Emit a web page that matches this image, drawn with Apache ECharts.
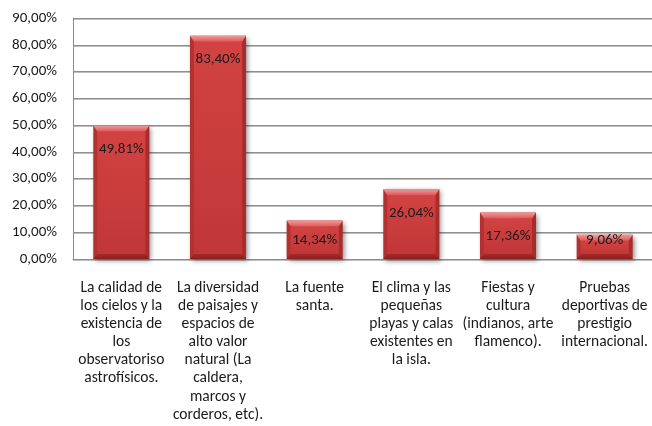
<!DOCTYPE html>
<html>
<head>
<meta charset="utf-8">
<script src="https://cdn.jsdelivr.net/npm/echarts@6/dist/echarts.min.js"></script>
<style>
  html, body { margin: 0; padding: 0; background: #ffffff; }
  #chart { width: 652px; height: 426px; }
</style>
</head>
<body>
<div id="chart"></div>
<script>
// Motivos de visita: categorías y porcentajes
const categories = [
  'La calidad de\nlos cielos y la\nexistencia de\nlos\nobservatoriso\nastrofísicos.',
  'La diversidad\nde paisajes y\nespacios de\nalto valor\nnatural (La\ncaldera,\nmarcos y\ncorderos, etc).',
  'La fuente\nsanta.',
  'El clima y las\npequeñas\nplayas y calas\nexistentes en\nla isla.',
  'Fiestas y\ncultura\n(indianos, arte\nflamenco).',
  'Pruebas\ndeportivas de\nprestigio\ninternacional.'
];
const percentages = [49.81, 83.40, 14.34, 26.04, 17.36, 9.06];
const yTicks = { min: 0, max: 90, step: 10 };

const FONT = 'Carlito, Lato, sans-serif';
const fmt = v => v.toFixed(2).replace('.', ',') + '%';

// Bar with bevelled edges, drawn from the axis coordinates
function renderBevelBar(params, api) {
  const idx = api.value(0);
  const val = api.value(1);
  const top = api.coord([idx, val]);
  const base = api.coord([idx, 0]);
  const band = api.size([1, 0])[0];
  const w = band * 0.58;
  const x0 = top[0] - w / 2, x1 = top[0] + w / 2;
  const y0 = top[1], y1 = base[1];
  const h = y1 - y0;
  const bv = Math.min(6, h / 4);   // top bevel depth
  const bb = Math.min(5, h / 4);   // bottom bevel depth
  const sv = 4;                    // side bevel width

  const children = [
    { // shadow + body
      type: 'rect',
      shape: { x: x0, y: y0, width: w, height: h },
      style: {
        fill: new echarts.graphic.LinearGradient(0, 0, 1, 0, [
          { offset: 0, color: '#b23030' },
          { offset: 0.5, color: '#c93c3c' },
          { offset: 1, color: '#a82a2a' }
        ]),
        shadowBlur: 5, shadowOffsetX: 2, shadowOffsetY: 2,
        shadowColor: 'rgba(0,0,0,0.45)'
      }
    },
    { // face
      type: 'rect',
      shape: { x: x0 + sv, y: y0 + bv, width: w - 2 * sv, height: h - bv - bb },
      style: {
        fill: new echarts.graphic.LinearGradient(0, 0, 0, 1, [
          { offset: 0, color: '#d24242' },
          { offset: 1, color: '#c03737' }
        ])
      }
    },
    { // top bevel (light)
      type: 'polygon',
      shape: { points: [[x0, y0], [x1, y0], [x1 - sv, y0 + bv], [x0 + sv, y0 + bv]] },
      style: {
        fill: new echarts.graphic.LinearGradient(0, 0, 0, 1, [
          { offset: 0, color: '#f09a9a' },
          { offset: 1, color: '#dc5858' }
        ])
      }
    },
    { // bottom bevel (dark)
      type: 'polygon',
      shape: { points: [[x0, y1], [x1, y1], [x1 - sv, y1 - bb], [x0 + sv, y1 - bb]] },
      style: {
        fill: new echarts.graphic.LinearGradient(0, 0, 0, 1, [
          { offset: 0, color: '#a82a2a' },
          { offset: 1, color: '#8a1e1e' }
        ])
      }
    }
  ];

  // Value label: inside the top of the bar, or near the base on short bars
  const SHORT_BAR = 16;
  const labelY = val < SHORT_BAR ? y1 - 19 : y0 + 24;
  children.push({
    type: 'text',
    style: {
      x: top[0], y: labelY,
      text: fmt(val),
      align: 'center', verticalAlign: 'middle',
      fill: '#1a1a1a',
      font: '15px ' + FONT
    }
  });

  return { type: 'group', children: children };
}

const chart = echarts.init(document.getElementById('chart'), null, { renderer: 'canvas' });

chart.setOption({
  animation: false,
  backgroundColor: '#ffffff',
  grid: {
    left: 73, top: 18, width: 580, bottom: 167,
    containLabel: false,
    outerBoundsMode: 'none'
  },
  xAxis: {
    type: 'category',
    data: categories,
    axisLine: { show: true, lineStyle: { color: '#8c8c8c', width: 1 } },
    axisTick: { show: false },
    axisLabel: {
      interval: 0,
      margin: 20,
      color: '#1a1a1a',
      fontFamily: FONT,
      fontSize: 15.5,
      lineHeight: 18.1,
      align: 'center'
    }
  },
  yAxis: {
    type: 'value',
    min: yTicks.min,
    max: yTicks.max,
    interval: yTicks.step,
    axisLine: { show: true, lineStyle: { color: '#8c8c8c', width: 1 } },
    axisTick: { show: false },
    splitLine: {
      show: true,
      lineStyle: { color: '#8e8e8e', width: 1, shadowColor: 'rgba(0,0,0,0.25)', shadowOffsetY: 1 }
    },
    axisLabel: {
      margin: 16,
      color: '#1a1a1a',
      fontFamily: FONT,
      fontSize: 15,
      formatter: v => fmt(v)
    }
  },
  series: [{
    type: 'custom',
    renderItem: renderBevelBar,
    encode: { x: 0, y: 1 },
    data: percentages.map((v, i) => [i, v]),
    clip: false
  }]
});
</script>
</body>
</html>
